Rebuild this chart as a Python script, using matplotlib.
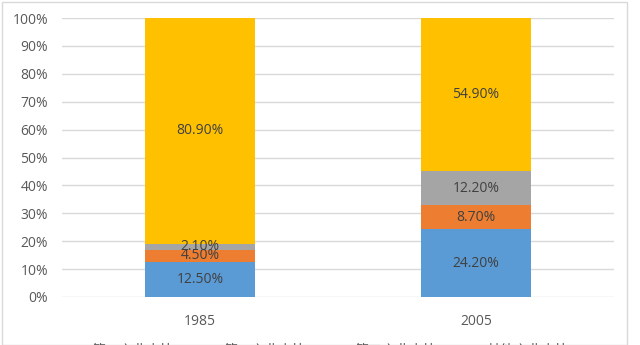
import numpy as np
import matplotlib.pyplot as plt
from matplotlib.patches import Rectangle

plt.rcParams['font.family'] = ['Open Sans', 'Noto Sans CJK SC', 'DejaVu Sans']

# data
years = ['1985', '2005']
series_names = ['第一产业占比', '第二产业占比', '第三产业占比', '其他产业占比']
primary = [12.5, 24.2]
secondary = [4.5, 8.7]
tertiary = [2.1, 12.2]
other = [80.9, 54.9]
colors = ['#5b9bd5', '#ed7d31', '#a5a5a5', '#ffc000']

fig = plt.figure(figsize=(6.4, 3.45), dpi=100)
ax = fig.add_axes([62 / 640, 1 - 297 / 345, 552 / 640, 279 / 345])

x = np.arange(len(years))
bottom = np.zeros(len(years))
for vals, name, c in zip([primary, secondary, tertiary, other], series_names, colors):
    vals = np.array(vals)
    ax.bar(x, vals, width=0.4, bottom=bottom, color=c, label=name, zorder=3)
    for xi, b, v in zip(x, bottom, vals):
        ax.text(xi, b + v / 2, f'{v:.2f}%', ha='center', va='center',
                fontsize=10, color='#404040', zorder=4)
    bottom += vals

ax.set_xlim(-0.5, 1.5)
ax.set_ylim(0, 100)
ax.set_yticks(np.arange(0, 101, 10))
ax.set_yticklabels([f'{v}%' for v in range(0, 101, 10)])
ax.set_xticks(x)
ax.set_xticklabels(years)
ax.grid(axis='y', color='#d9d9d9', linewidth=1, zorder=0)
for s in ax.spines.values():
    s.set_visible(False)
ax.tick_params(axis='both', length=0, colors='#595959', labelsize=10)
ax.tick_params(axis='y', pad=10)
ax.tick_params(axis='x', pad=12)

# legend, mostly cut off at the bottom edge
fig.legend(loc='upper center', bbox_to_anchor=(0.5, 14 / 345), ncol=4,
           frameon=False, fontsize=10, labelcolor='#595959',
           handlelength=0.7, handleheight=0.7, columnspacing=2.0)

fig.patches.append(Rectangle((2 / 640, 0), 625 / 640, 0.995, transform=fig.transFigure,
                             fill=False, edgecolor='#d9d9d9', linewidth=1))

fig.savefig('out.png', dpi=100)
